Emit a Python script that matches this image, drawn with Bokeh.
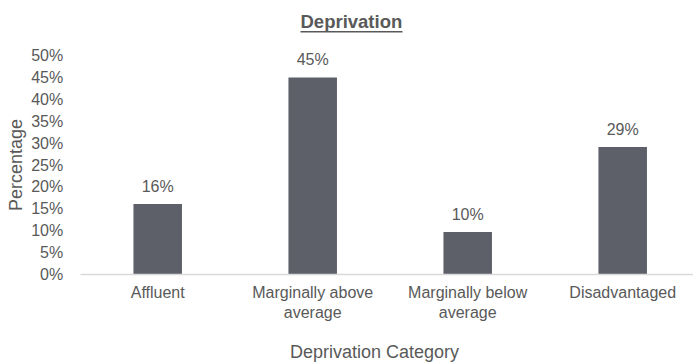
import math
from bokeh.plotting import figure
from bokeh.models import (Range1d, FixedTicker, NumeralTickFormatter, Label, LabelSet,
                          BoxAnnotation, ColumnDataSource)
from bokeh.core.properties import value
from bokeh.embed import file_html
from bokeh.resources import INLINE

# Share of respondents in each deprivation category
categories = ["Affluent", "Marginally above average", "Marginally below average", "Disadvantaged"]
tick_labels = ["Affluent", "Marginally above\naverage", "Marginally below\naverage", "Disadvantaged"]
shares = [0.161, 0.450, 0.097, 0.291]
y_ticks = [0.0, 0.05, 0.10, 0.15, 0.20, 0.25, 0.30, 0.35, 0.40, 0.45, 0.50]

FONT = "Liberation Sans"
TEXT = "#595959"
BAR = "#5d6068"

W, H = 693, 362
# canvas geometry: one category slot is 155 px wide, first slot centred at x=157;
# the value axis runs from y=274 (0%) up to y=55 (50%)
SLOT_PX, FIRST_X = 155.0, 157.2
BASE_Y, TOP_Y = 274.0, 55.0
px_per_unit = (BASE_Y - TOP_Y) / y_ticks[-1]

positions = list(range(len(categories)))
source = ColumnDataSource(data=dict(
    x=positions,
    share=shares,
    label=[f"{round(s * 100)}%" for s in shares],
))

x_range = Range1d(-FIRST_X / SLOT_PX, (W - FIRST_X) / SLOT_PX)
y_range = Range1d(-(H - BASE_Y) / px_per_unit, BASE_Y / px_per_unit)

p = figure(width=W, height=H, x_range=x_range, y_range=y_range,
           min_border=0, toolbar_location=None, output_backend="svg",
           background_fill_color="white", border_fill_color="white")
p.outline_line_color = None
p.xgrid.visible = False
p.ygrid.visible = False

p.vbar(x="x", top="share", width=0.313, source=source,
       fill_color=BAR, line_color=None)

# value labels above the bars
p.add_layout(LabelSet(x="x", y="share", text="label", source=source,
                      text_align="center", text_baseline="alphabetic", y_offset=12,
                      text_font=value(FONT), text_font_size=value("16px"),
                      text_color=TEXT))

# y axis, drawn at the left edge of the first category slot
ya = p.yaxis[0]
ya.fixed_location = -0.5
ya.ticker = FixedTicker(ticks=y_ticks)
ya.formatter = NumeralTickFormatter(format="0%")
ya.axis_line_color = None
ya.major_tick_line_color = None
ya.minor_tick_line_color = None
ya.major_tick_out = 0
ya.major_tick_in = 0
ya.major_label_standoff = 17
ya.major_label_text_font = FONT
ya.major_label_text_font_size = "16px"
ya.major_label_text_color = TEXT

# x axis along the 0% line
xa = p.xaxis[0]
xa.fixed_location = 0
xa.bounds = (-0.5, x_range.end)
xa.ticker = FixedTicker(ticks=positions)
xa.major_label_overrides = {i: t for i, t in zip(positions, tick_labels)}
xa.axis_line_color = "#d9d9d9"
xa.axis_line_width = 1.5
xa.major_tick_line_color = None
xa.minor_tick_line_color = None
xa.major_tick_out = 0
xa.major_tick_in = 0
xa.major_label_standoff = 9
xa.major_label_text_font = FONT
xa.major_label_text_font_size = "16px"
xa.major_label_text_color = TEXT

# chart title, underlined (screen units measured from the bottom-left corner)
p.add_layout(Label(x=300, y=H - 21, x_units="screen", y_units="screen",
                   text="Deprivation", text_align="left", text_baseline="alphabetic",
                   text_font=FONT, text_font_size="18.5px", text_font_style="bold",
                   text_color=TEXT))
p.add_layout(BoxAnnotation(left=300, right=402, bottom=H - 32, top=H - 30.5,
                           left_units="screen", right_units="screen",
                           top_units="screen", bottom_units="screen",
                           fill_color=TEXT, fill_alpha=1.0, line_color=None))

# axis titles
p.add_layout(Label(x=374, y=11, x_units="screen", y_units="screen",
                   text="Deprivation Category", text_align="center", text_baseline="alphabetic",
                   text_font=FONT, text_font_size="18px", text_color=TEXT))
p.add_layout(Label(x=15, y=H - (BASE_Y + TOP_Y) / 2, x_units="screen", y_units="screen",
                   angle=math.pi / 2, text="Percentage",
                   text_align="center", text_baseline="alphabetic",
                   text_font=FONT, text_font_size="18px", text_color=TEXT))

open("out.html", "w").write(file_html(p, INLINE))
